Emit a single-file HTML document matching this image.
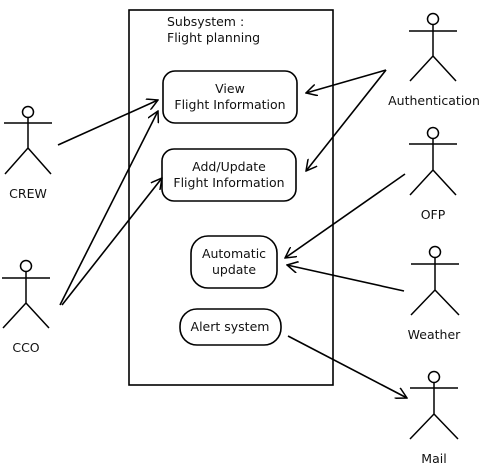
<!DOCTYPE html>
<html><head><style>body{margin:0;background:#fff}svg{display:block}text{font-family:"DejaVu Sans","Liberation Sans",sans-serif;font-size:12.5px;fill:#111}</style></head><body>
<svg width="482" height="469" viewBox="0 0 482 469">
<defs><marker id="a" viewBox="0 0 12 12" refX="11" refY="6" markerWidth="12" markerHeight="12" markerUnits="userSpaceOnUse" orient="auto"><path d="M0,0 L11,6 L0,12" fill="none" stroke="#000" stroke-width="1.5"/></marker></defs>
<g fill="none" stroke="#000" stroke-width="1.6">
<rect x="129" y="10" width="204" height="375"/>
<rect x="163" y="71" width="134" height="52" rx="12"/>
<rect x="162" y="149" width="134" height="52" rx="12"/>
<rect x="191" y="236" width="86" height="52" rx="17"/>
<rect x="180" y="309" width="101" height="36" rx="17"/>
<g marker-end="url(#a)">
<line x1="58" y1="145" x2="158" y2="100"/>
<line x1="60" y1="305" x2="158" y2="111"/>
<line x1="62" y1="305" x2="162" y2="178"/>
<line x1="386" y1="70" x2="306" y2="93"/>
<line x1="386" y1="70" x2="306" y2="171"/>
<line x1="405" y1="174" x2="285" y2="258"/>
<line x1="404" y1="291" x2="287" y2="265"/>
<line x1="288" y1="336" x2="407" y2="398"/>
</g>
</g>
<g fill="none" stroke="#000" stroke-width="1.5">
<g transform="translate(28,106)"><circle cx="0" cy="6" r="5.5"/><path d="M-24,17H24M0,11.5V42L-23,68M0,42L23,68"/></g>
<g transform="translate(26,260)"><circle cx="0" cy="6" r="5.5"/><path d="M-24,18H24M0,11.5V43L-23,68M0,43L23,68"/></g>
<g transform="translate(433,13)"><circle cx="0" cy="6" r="5.5"/><path d="M-24,18H24M0,11.5V43L-23,68M0,43L23,68"/></g>
<g transform="translate(433,127)"><circle cx="0" cy="6" r="5.5"/><path d="M-24,17H24M0,11.5V43L-23,68M0,43L23,68"/></g>
<g transform="translate(435,246)"><circle cx="0" cy="6" r="5.5"/><path d="M-24,18H24M0,11.5V44L-24,69M0,44L24,69"/></g>
<g transform="translate(434,371)"><circle cx="0" cy="6" r="5.5"/><path d="M-24,17H24M0,11.5V43L-24,68M0,43L24,68"/></g>
</g>
<text x="167" y="26">Subsystem :</text>
<text x="167" y="42">Flight planning</text>
<g text-anchor="middle">
<text x="230" y="93">View</text>
<text x="230" y="109">Flight Information</text>
<text x="229" y="171">Add/Update</text>
<text x="229" y="187">Flight Information</text>
<text x="234" y="258">Automatic</text>
<text x="234" y="274">update</text>
<text x="230" y="331">Alert system</text>
<text x="28" y="198">CREW</text>
<text x="26" y="352">CCO</text>
<text x="434" y="105">Authentication</text>
<text x="433" y="219">OFP</text>
<text x="434" y="339">Weather</text>
<text x="434" y="463">Mail</text>
</g>
</svg>
</body></html>
